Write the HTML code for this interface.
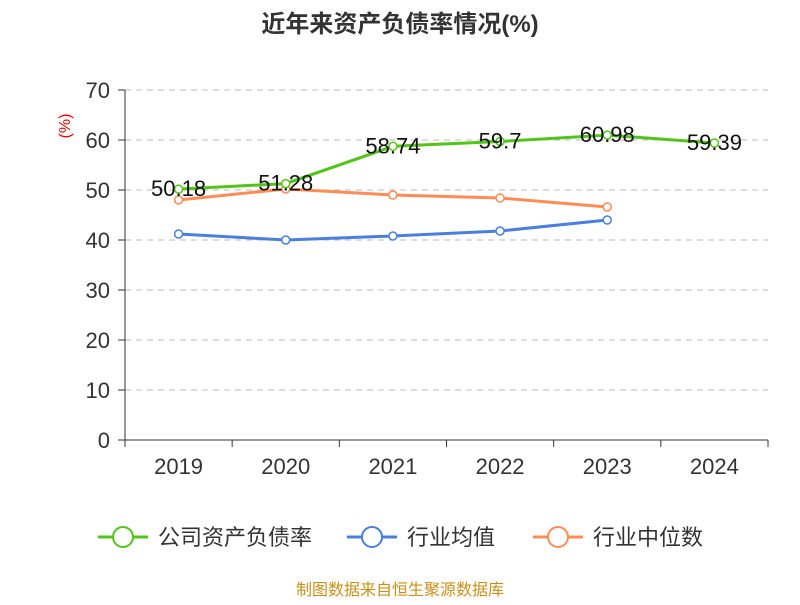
<!DOCTYPE html>
<html><head><meta charset="utf-8"><style>
body{margin:0;background:#fff;font-family:"Liberation Sans","Noto Sans CJK SC",sans-serif}
</style></head><body>
<svg width="800" height="600" xmlns="http://www.w3.org/2000/svg" id="chart" font-family="Liberation Sans, Noto Sans CJK SC, sans-serif">
<text x="400" y="32" text-anchor="middle" font-size="24" font-weight="bold" fill="#333">近年来资产负债率情况(%)</text>
<text x="70" y="126" text-anchor="middle" font-size="16" fill="#e00" transform="rotate(-90 70 126)">(%)</text>
<g id="grid"></g><g id="axes"></g><g id="series"></g>
<g>
<g><line x1="98" y1="537" x2="148" y2="537" stroke="#52c41a" stroke-width="3"/><circle cx="123" cy="537" r="10" fill="#fff" stroke="#52c41a" stroke-width="2"/><text x="158" y="545" font-size="22" fill="#333">公司资产负债率</text></g>
<g><line x1="347" y1="537" x2="397" y2="537" stroke="#4a7fe0" stroke-width="3"/><circle cx="372" cy="537" r="10" fill="#fff" stroke="#4a7fe0" stroke-width="2"/><text x="407" y="545" font-size="22" fill="#333">行业均值</text></g>
<g><line x1="533" y1="537" x2="583" y2="537" stroke="#ff8c55" stroke-width="3"/><circle cx="558" cy="537" r="10" fill="#fff" stroke="#ff8c55" stroke-width="2"/><text x="593" y="545" font-size="22" fill="#333">行业中位数</text></g>
</g>
<text x="400" y="595" text-anchor="middle" font-size="16" fill="#c8901a">制图数据来自恒生聚源数据库</text>
</svg>
<script>
const categories=["2019","2020","2021","2022","2023","2024"];
const companyValues=[50.18,51.28,58.74,59.7,60.98,59.39];
const avgValues=[41.2,40.0,40.8,41.8,44.0];
const medianValues=[48.0,50.2,49.0,48.4,46.6];
const yTicks=[0,10,20,30,40,50,60,70];
const NS="http://www.w3.org/2000/svg";
const x0=125,x1=768,yBase=440,yTop=90,yMax=70;
const bw=(x1-x0)/categories.length;
const xs=i=>x0+bw*(i+0.5);
const ys=v=>yBase-(v/yMax)*(yBase-yTop);
function mk(t,a,p){const e=document.createElementNS(NS,t);for(const k in a)e.setAttribute(k,a[k]);p.appendChild(e);return e;}
const grid=document.getElementById('grid'),axes=document.getElementById('axes'),ser=document.getElementById('series');
yTicks.forEach(v=>{
 if(v>0){const g=mk('line',{x1:x0,x2:x1,y1:ys(v),y2:ys(v),stroke:'#bbb','stroke-dasharray':'6,5'},grid);
 
 }
 const tk=mk('line',{x1:x0-7,x2:x0,y1:ys(v),y2:ys(v),stroke:'#333'},axes);
 
 
 const t=mk('text',{x:x0-15,y:ys(v)+8,'text-anchor':'end','font-size':22,fill:'#333'},axes);t.textContent=v;
 
 
});
const ya=mk('line',{x1:x0,x2:x0,y1:yTop,y2:yBase,stroke:'#333'},axes);


const xa=mk('line',{x1:x0,x2:x1,y1:yBase,y2:yBase,stroke:'#333'},axes);


for(let i=0;i<=categories.length;i++){const l=mk('line',{x1:x0+bw*i,x2:x0+bw*i,y1:yBase,y2:yBase+7,stroke:'#333'},axes);
 
 }
categories.forEach((c,i)=>{const t=mk('text',{x:xs(i),y:474,'text-anchor':'middle','font-size':22,fill:'#333'},axes);t.textContent=c;
 
 });
function drawSeries(vals,color,name,labels){
 const p=mk('polyline',{points:vals.map((v,i)=>xs(i)+','+ys(v)).join(' '),fill:'none',stroke:color,'stroke-width':3},ser);
 
 
 vals.forEach((v,i)=>{const c=mk('circle',{cx:xs(i),cy:ys(v),r:4,fill:'#fff',stroke:color,'stroke-width':1.5},ser);
  
  
  if(labels){const t=mk('text',{x:xs(i),y:ys(v)+7,'text-anchor':'middle','font-size':22,fill:'#111'},ser);t.textContent=v;
   
   }
 });
}
drawSeries(avgValues,'#4a7fe0','industry-avg',false);
drawSeries(medianValues,'#ff8c55','industry-median',false);
drawSeries(companyValues,'#52c41a','company',true);
</script>
</body></html>
